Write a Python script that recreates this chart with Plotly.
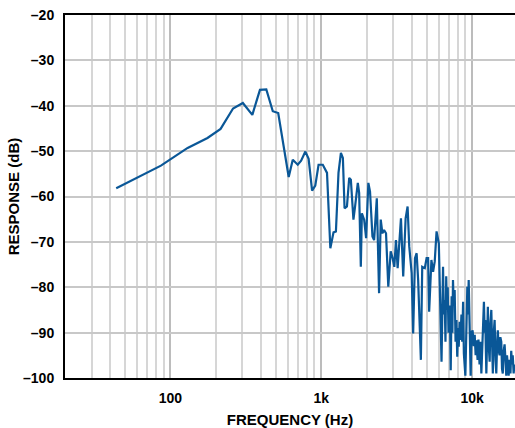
import plotly.graph_objects as go

# Frequency (Hz) and response (dB)
freq_hz = [
    43.7, 86.5, 130, 176, 215, 260, 302, 349, 392, 432, 477, 518,
    608, 647, 698, 735, 784, 824, 869, 912, 959, 1023, 1091,
    1148, 1205, 1250, 1300, 1349, 1390, 1426, 1479, 1531, 1570,
    1633, 1675, 1746, 1782, 1828, 1858, 1923, 1982, 2051, 2104,
    2183, 2239, 2333, 2415, 2477, 2541, 2606, 2685, 2780, 2884,
    2972, 3048, 3126, 3206, 3373, 3491, 3622, 3733, 3828, 3972,
    4064, 4178, 4285, 4385, 4571, 4667, 4853, 4989, 5105, 5188,
    5370, 5508, 5649, 5808, 6012,
    6266, 6353, 6412, 6486, 6577, 6653, 6730, 6808, 6887, 6966,
    7031, 7112, 7211, 7311, 7396, 7464, 7551, 7656, 7762, 7870,
    7962, 8054, 8147, 8260, 8356, 8492, 8590, 8710, 8810, 9016,
    9141, 9290, 9376, 9484, 9616, 9772, 9908, 10069, 10233, 10399,
    10544, 10666, 10864, 11015, 11194, 11350, 11508, 11695, 11830, 11967,
    12106, 12218, 12417, 12560, 12706, 12882, 13062, 13213, 13397, 13552,
    13709, 13900, 14093, 14289, 14454, 14622, 14791, 14997, 15205, 15382,
    15596, 15776, 15959, 16181, 16406, 16634, 16827, 17022, 17219, 17458,
    17701, 17947, 18155, 18365, 18578, 18836, 19055,
]
response_db = [
    -58.2, -53.2, -49.3, -47.1, -45.1, -40.6, -39.4, -42.0, -36.5, -36.4, -41.2, -41.6,
    -55.7, -51.9, -53.0, -52.1, -50.1, -51.7, -58.7, -57.6, -53.0, -53.0, -54.8,
    -71.4, -67.9, -67.7, -54.8, -50.4, -51.5, -62.6, -62.2, -55.9, -56.3,
    -65.1, -62.2, -57.0, -59.2, -75.5, -63.7, -65.1, -69.2, -57.0, -58.9,
    -68.8, -69.6, -60.4, -81.3, -65.1, -68.1, -67.4, -68.1, -79.9, -72.1,
    -73.6, -75.5, -69.6, -75.8, -64.8, -77.6, -64.8, -62.2, -71.0, -76.9,
    -90.2, -73.6, -72.5, -78.4, -96.0, -75.5, -75.8, -73.6, -73.6, -85.4,
    -74.0, -76.6, -74.3, -67.7, -70.3,
    -96.4, -80.0, -75.5, -86.0, -82.8, -92.0, -77.6, -85.0, -80.0, -90.0,
    -88.7, -84.0, -98.3, -82.0, -90.0, -78.4, -84.0, -80.6, -92.0, -87.2,
    -95.3, -89.0, -93.1, -87.6, -91.6, -86.0, -92.0, -83.2, -94.6, -99.5,
    -85.0, -79.9, -86.0, -78.4, -88.0, -99.5, -90.0, -89.5, -93.0, -90.5,
    -95.0, -91.7, -96.0, -91.5, -97.0, -92.0, -99.0, -90.0, -86.0, -83.2,
    -90.0, -87.2, -99.0, -88.0, -84.3, -93.0, -96.4, -88.0, -85.0, -92.0,
    -99.0, -90.0, -87.2, -96.0, -99.0, -93.0, -89.5, -94.0, -95.0, -91.0,
    -92.0, -98.0, -99.0, -94.0, -92.6, -96.0, -99.5, -95.0, -97.0, -99.5,
    -96.0, -99.0, -94.0, -97.0, -95.0, -99.0, -97.0,
]

x_major = [100, 1000, 10000]
x_major_text = ["100", "1k", "10k"]
x_minor = [30, 40, 50, 60, 70, 80, 90,
           200, 300, 400, 500, 600, 700, 800, 900,
           2000, 3000, 4000, 5000, 6000, 7000, 8000, 9000]
y_ticks = [-100, -90, -80, -70, -60, -50, -40, -30, -20]
y_tick_text = ["\u2013100", "\u201390", "\u201380", "\u201370", "\u201360",
               "\u201350", "\u201340", "\u201330", "\u201320"]

FONT = "Liberation Sans, Arial, sans-serif"

fig = go.Figure()
fig.add_trace(go.Scatter(
    x=freq_hz, y=response_db, mode="lines",
    line=dict(color="#0a5797", width=2.2),
    showlegend=False,
))

fig.update_layout(
    width=515, height=428,
    margin=dict(l=65, r=0, t=15, b=50),
    paper_bgcolor="white", plot_bgcolor="white",
    font=dict(family=FONT, color="black"),
)
fig.update_xaxes(
    type="log", range=[1.30103, 4.284], automargin=False,
    tickmode="array", tickvals=x_major, ticktext=x_major_text,
    tickfont=dict(size=14, family=FONT, color="black", weight="bold"),
    showgrid=True, gridcolor="#bcbcbc", gridwidth=2,
    minor=dict(tickmode="array", tickvals=x_minor, showgrid=True,
               gridcolor="#d6d6d6", gridwidth=1.5, ticks=""),
    ticks="", ticklabelstandoff=6,
    showline=True, linecolor="black", linewidth=2, mirror=True,
    title=dict(text="<b>FREQUENCY (Hz)</b>", font=dict(size=15, family=FONT), standoff=10),
    zeroline=False,
)
fig.update_yaxes(
    range=[-100, -20], automargin=False,
    tickmode="array", tickvals=y_ticks, ticktext=y_tick_text,
    tickfont=dict(size=14, family=FONT, color="black", weight="bold"),
    showgrid=True, gridcolor="#c8c8c8", gridwidth=1.5,
    ticks="", ticklabelstandoff=6,
    showline=True, linecolor="black", linewidth=2, mirror=True,
    title=dict(text="<b>RESPONSE (dB)</b>", font=dict(size=15, family=FONT), standoff=0),
    zeroline=False,
)

fig.write_html(
    "out.html",
    config={"displayModeBar": False},
    post_script="document.body.style.margin='0';document.body.style.overflow='hidden';",
)
